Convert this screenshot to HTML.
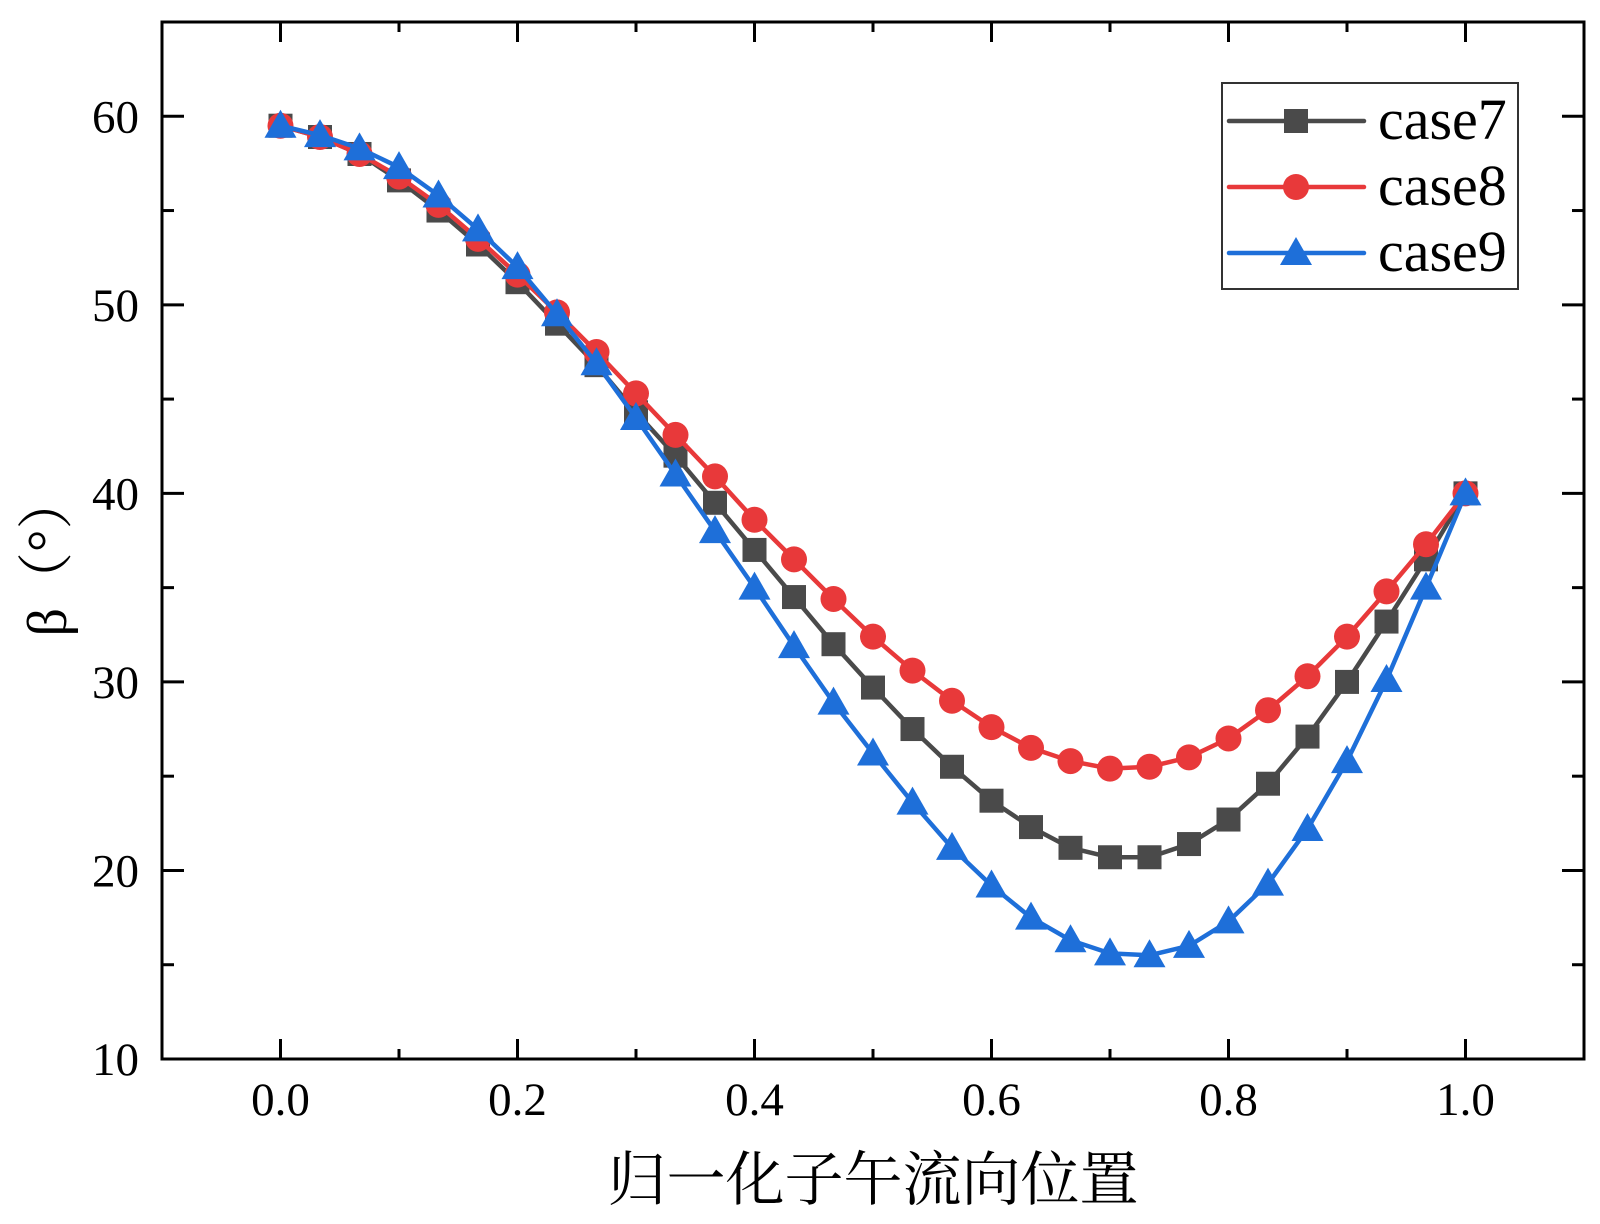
<!DOCTYPE html>
<html><head><meta charset="utf-8"><style>
html,body{margin:0;padding:0;background:#fff}
svg{display:block}
text{font-family:"Liberation Serif","Noto Serif CJK SC",serif;fill:#000}
</style></head><body>
<svg id="chart" width="1600" height="1224" viewBox="0 0 1600 1224" xmlns="http://www.w3.org/2000/svg">
<g id="grid"></g>
<g id="series"></g>
<g id="axes"></g>
<g id="legend"></g>
</svg>
<script>
const xValues=[0,1/30,2/30,3/30,4/30,5/30,6/30,7/30,8/30,9/30,10/30,11/30,12/30,13/30,14/30,15/30,16/30,17/30,18/30,19/30,20/30,21/30,22/30,23/30,24/30,25/30,26/30,27/30,28/30,29/30,1];
const case7=[59.5,58.9,58.0,56.6,55.0,53.2,51.2,49.0,46.8,44.3,42.0,39.5,37.0,34.5,32.0,29.7,27.5,25.5,23.7,22.3,21.2,20.7,20.7,21.4,22.7,24.6,27.1,30.0,33.2,36.5,40.0];
const case8=[59.5,58.9,58.0,56.8,55.3,53.5,51.6,49.6,47.5,45.3,43.1,40.9,38.6,36.5,34.4,32.4,30.6,29.0,27.6,26.5,25.8,25.4,25.5,26.0,27.0,28.5,30.3,32.4,34.8,37.3,40.0];
const case9=[59.5,59.0,58.3,57.3,55.8,54.0,52.0,49.5,46.9,44.0,41.0,38.0,35.0,31.9,28.9,26.2,23.6,21.2,19.2,17.5,16.3,15.6,15.5,16.0,17.3,19.3,22.2,25.8,30.1,35.0,40.0];
const xTicks=[0,0.2,0.4,0.6,0.8,1.0];
const xTickLabels=["0.0","0.2","0.4","0.6","0.8","1.0"];
const yTicks=[10,20,30,40,50,60];
const yTickLabels=["10","20","30","40","50","60"];
const seriesNames=["case7","case8","case9"];

const L=162,R=1584,T=22,B=1059;
const X=v=>L+(v-(-0.1))/(1.2)*(R-L);
const Y=v=>B-(v-10)/55*(B-T);
const NS="http://www.w3.org/2000/svg";
function mk(tag,attrs,parent){const e=document.createElementNS(NS,tag);for(const k in attrs)e.setAttribute(k,attrs[k]);parent.appendChild(e);return e;}
const axes=document.getElementById('axes'),series=document.getElementById('series'),legend=document.getElementById('legend');

const frame=mk('rect',{x:L,y:T,width:R-L,height:B-T,fill:'none',stroke:'#000','stroke-width':3},axes);


yTicks.forEach((v,i)=>{
  const y=Y(v);
  mk('line',{x1:L,x2:L+22,y1:y,y2:y,stroke:'#000','stroke-width':3},axes);
  mk('line',{x1:R,x2:R-22,y1:y,y2:y,stroke:'#000','stroke-width':3},axes);
  const t=mk('text',{x:L-23,y:y+16,'text-anchor':'end','font-size':47},axes);
  t.textContent=yTickLabels[i];
  
  
  const m=Y(v+5);
  if(v+5<=60){mk('line',{x1:L,x2:L+12,y1:m,y2:m,stroke:'#000','stroke-width':3},axes);mk('line',{x1:R,x2:R-12,y1:m,y2:m,stroke:'#000','stroke-width':3},axes);}
});
xTicks.forEach((v,i)=>{
  const x=X(v);
  mk('line',{x1:x,x2:x,y1:B,y2:B-20,stroke:'#000','stroke-width':3},axes);
  mk('line',{x1:x,x2:x,y1:T,y2:T+20,stroke:'#000','stroke-width':3},axes);
  const t=mk('text',{x:x,y:B+56,'text-anchor':'middle','font-size':47},axes);
  t.textContent=xTickLabels[i];
  
  
});
[-0.1,0.1,0.3,0.5,0.7,0.9,1.1].forEach(v=>{const x=X(v);mk('line',{x1:x,x2:x,y1:B,y2:B-10,stroke:'#000','stroke-width':3},axes);mk('line',{x1:x,x2:x,y1:T,y2:T+10,stroke:'#000','stroke-width':3},axes);});

const xt=mk('text',{x:(L+R)/2,y:1200,'text-anchor':'middle','font-size':59},axes);
xt.textContent='归一化子午流向位置';


const yt=mk('text',{x:0,y:0,'text-anchor':'middle','font-size':56,transform:'translate(66,555) rotate(-90)'},axes);
yt.textContent='β（°）';



const colors=['#4a4a4a','#e8393a','#1e6fd9'];
const shapes=['square','circle','triangle'];
function marker(shape,cx,cy,col,g){
  if(shape==='square')return mk('rect',{x:cx-12,y:cy-12,width:24,height:24,fill:col},g);
  if(shape==='circle')return mk('circle',{cx:cx,cy:cy,r:13,fill:col},g);
  return mk('polygon',{points:`${cx},${cy-16} ${cx-16},${cy+12} ${cx+16},${cy+12}`,fill:col},g);
}
[case7,case8,case9].forEach((data,si)=>{
  const g=mk('g',{},series);
  
  
  const pts=data.map((v,i)=>X(xValues[i])+','+Y(v)).join(' ');
  const pl=mk('polyline',{points:pts,fill:'none',stroke:colors[si],'stroke-width':4.5,'stroke-linejoin':'round'},g);
  
  
  data.forEach((v,i)=>{
    const m=marker(shapes[si],X(xValues[i]),Y(v),colors[si],g);
    
    
  });
});

const lb=mk('rect',{x:1222,y:83,width:296,height:206,fill:'#fff',stroke:'#333','stroke-width':2},legend);


seriesNames.forEach((n,i)=>{
  const y=121+i*66;
  const g=mk('g',{},legend);
  
  
  mk('line',{x1:1229,x2:1364,y1:y,y2:y,stroke:colors[i],'stroke-width':4.5,'stroke-linecap':'round'},g);
  marker(shapes[i],1296,y,colors[i],g);
  const t=mk('text',{x:1378,y:y+18,'font-size':58},g);
  t.textContent=n;
});
</script>
</body></html>
